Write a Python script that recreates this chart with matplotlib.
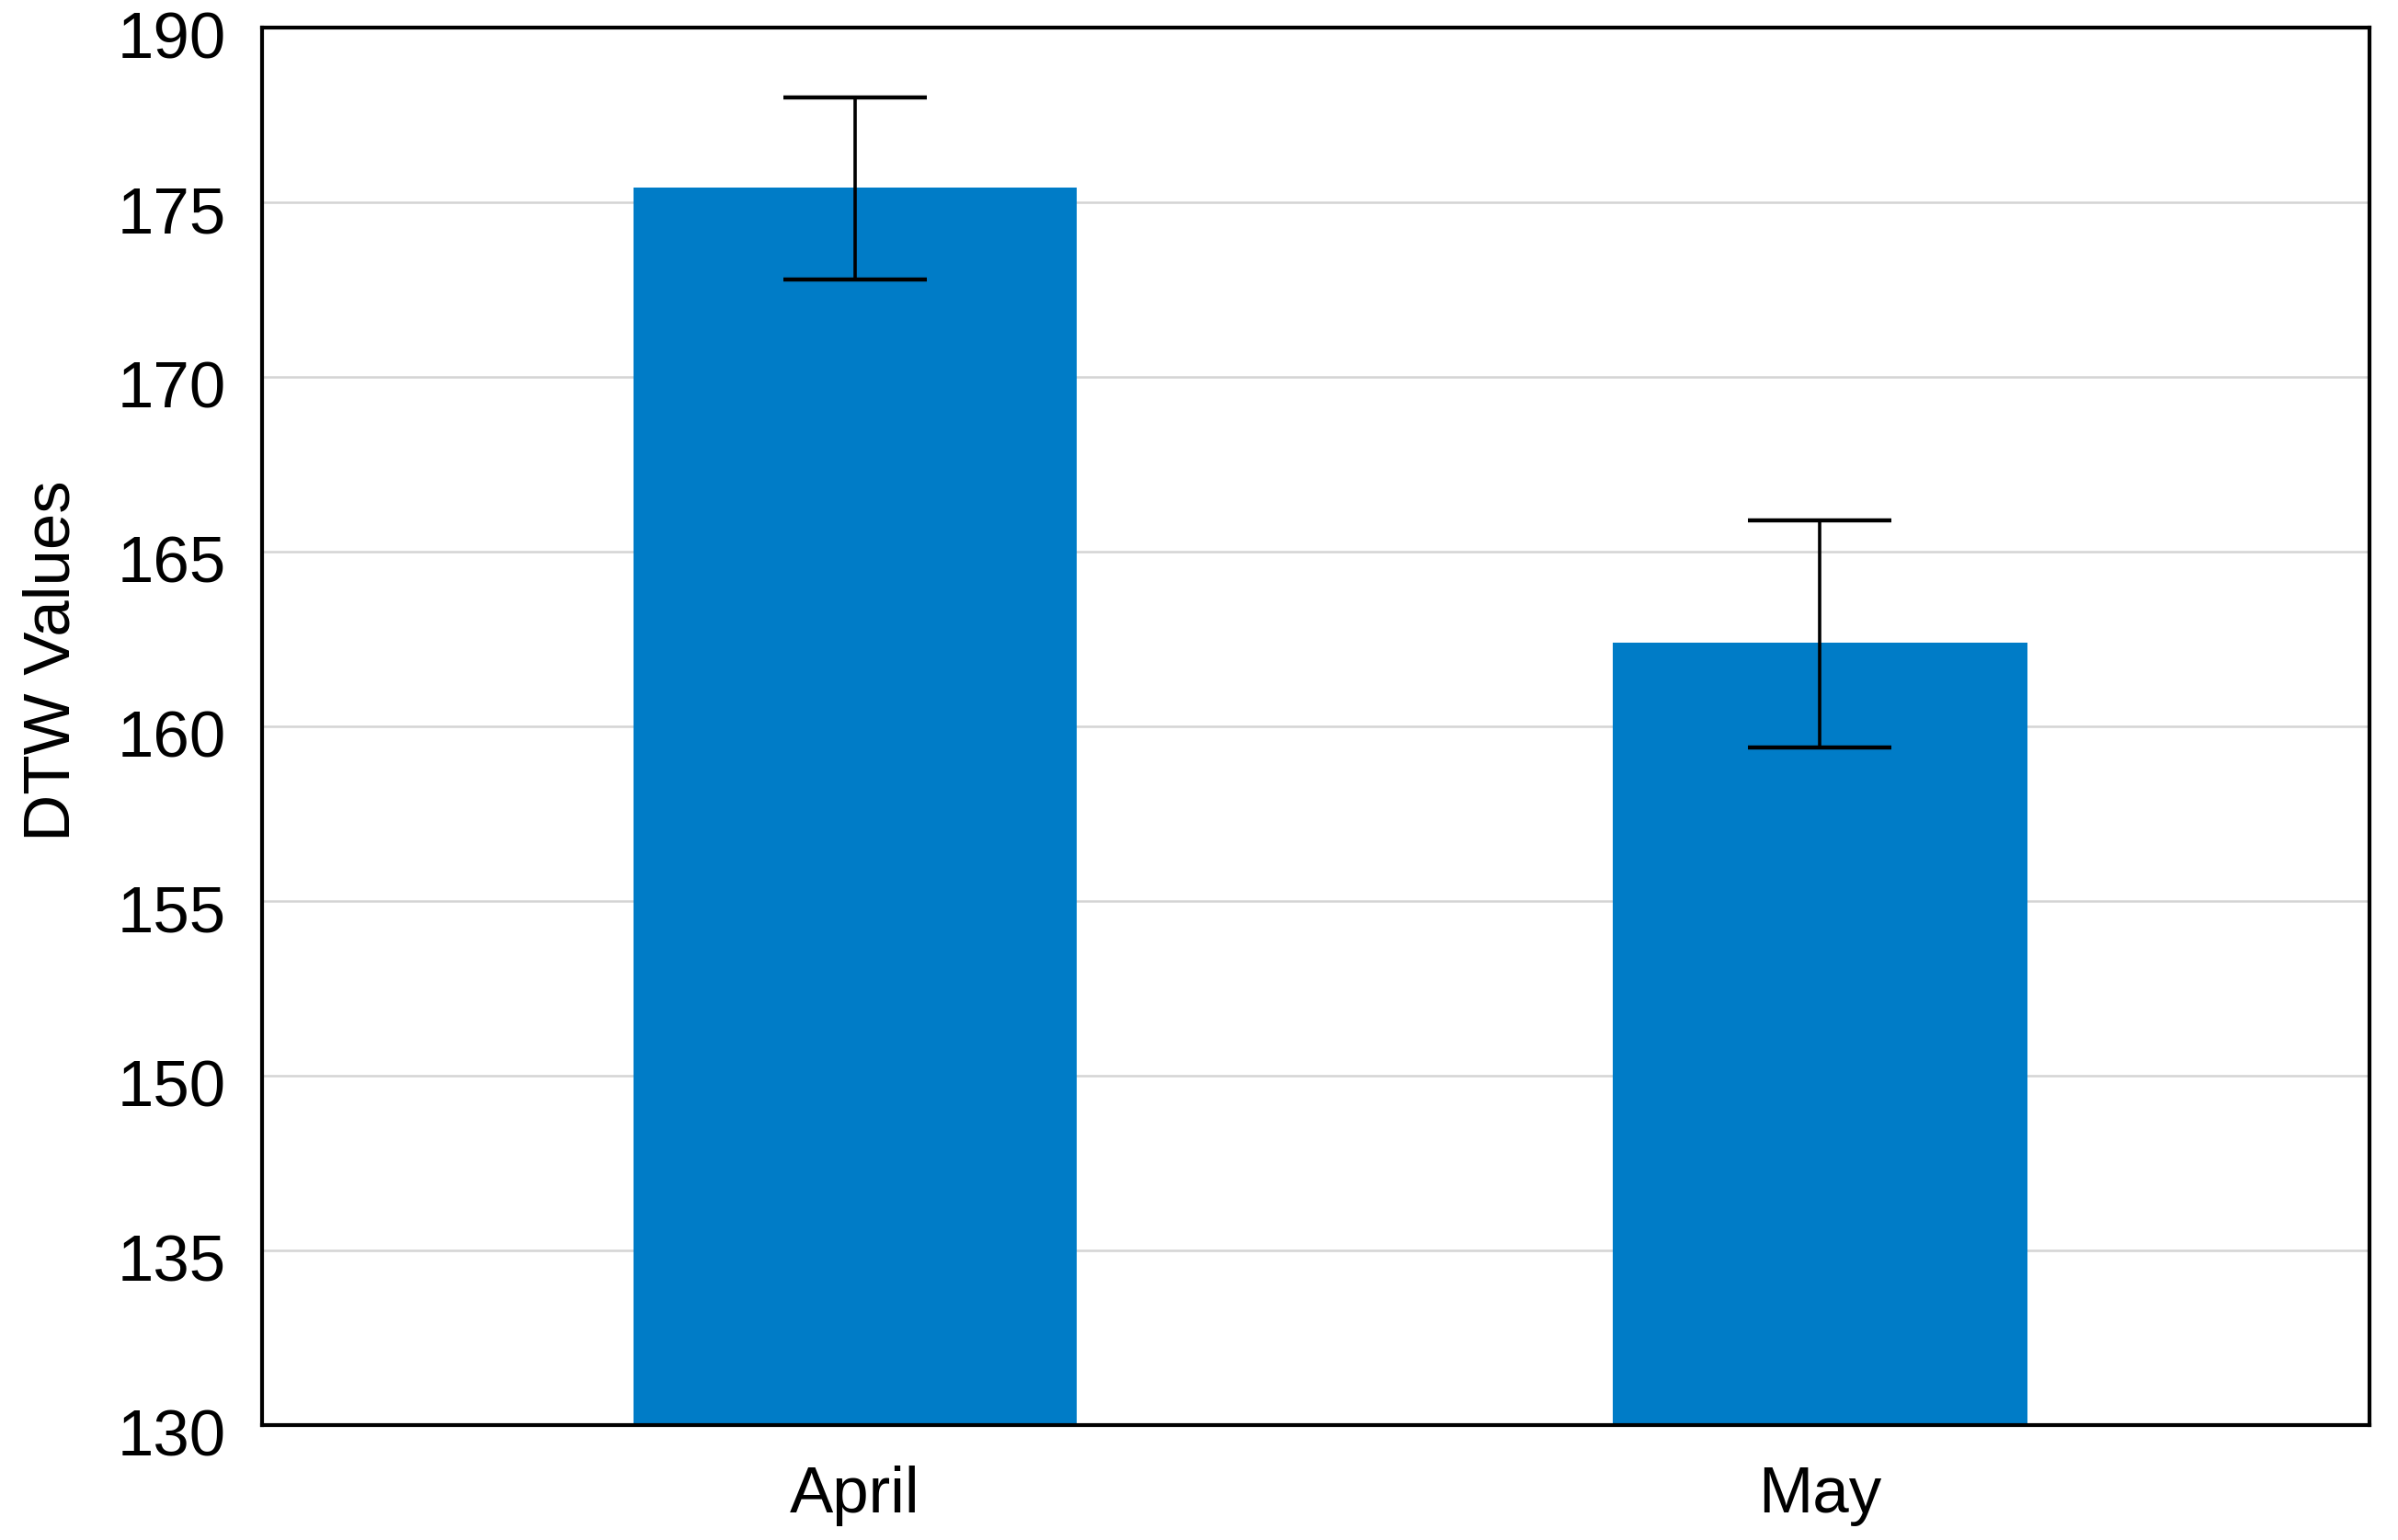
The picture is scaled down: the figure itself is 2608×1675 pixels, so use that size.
import matplotlib
matplotlib.use('Agg')
import matplotlib.pyplot as plt
import matplotlib.transforms as mtransforms
import numpy as np

# Данные
months = ['April', 'May']
dtw_values = [176.3, 162.4]
err_low = [172.8, 159.4]
err_high = [184.0, 165.9]
bar_widths = [0.46, 0.43]

# Подписи оси Y как на картинке (шаг неравномерный)
y_ticks = [130, 135, 150, 155, 160, 165, 170, 175, 190]


def forward(v):
    return np.interp(v, y_ticks, np.arange(len(y_ticks)))


def inverse(p):
    return np.interp(p, np.arange(len(y_ticks)), y_ticks)


def main():
    plt.rcParams['font.family'] = ['Liberation Sans', 'DejaVu Sans']
    fs = 25.5
    fig, ax = plt.subplots(figsize=(13.04, 8.375), dpi=200)
    fig.subplots_adjust(left=0.1093, right=0.9881, top=0.9821, bottom=0.0746)

    ax.set_yscale('function', functions=(forward, inverse))
    x = np.arange(len(months))
    vals = np.array(dtw_values)
    yerr = [vals - np.array(err_low), np.array(err_high) - vals]

    ax.bar(x, vals, width=bar_widths, color='#007cc7', zorder=2)
    ax.errorbar(x, vals, yerr=yerr, fmt='none', ecolor='black',
                elinewidth=1.3, capsize=28, capthick=1.6, zorder=3)

    ax.set_ylim(130, 190)
    ax.set_xlim(-0.615, 1.57)
    ax.set_yticks(y_ticks)
    ax.set_yticklabels([str(t) for t in y_ticks])
    ax.set_xticks(x)
    ax.set_xticklabels(months)
    ax.tick_params(axis='y', length=0, pad=14, labelsize=fs)
    ax.tick_params(axis='x', length=0, pad=16, labelsize=fs)

    # подписи на оси Y в оригинале чуть ниже линий сетки
    shift = mtransforms.ScaledTranslation(0, -3 / 72, fig.dpi_scale_trans)
    for lab in ax.get_yticklabels():
        lab.set_transform(lab.get_transform() + shift)

    ax.grid(axis='y', color='#d4d4d4', lw=0.9)
    ax.set_axisbelow(True)
    for sp in ax.spines.values():
        sp.set_linewidth(1.5)
        sp.set_color('black')

    ax.set_ylabel('DTW Values', fontsize=fs)
    ax.yaxis.set_label_coords(-0.0995, 0.547)
    ax.yaxis.label.set_verticalalignment('center')

    plt.savefig('out.png', dpi=200)


if __name__ == '__main__':
    main()
